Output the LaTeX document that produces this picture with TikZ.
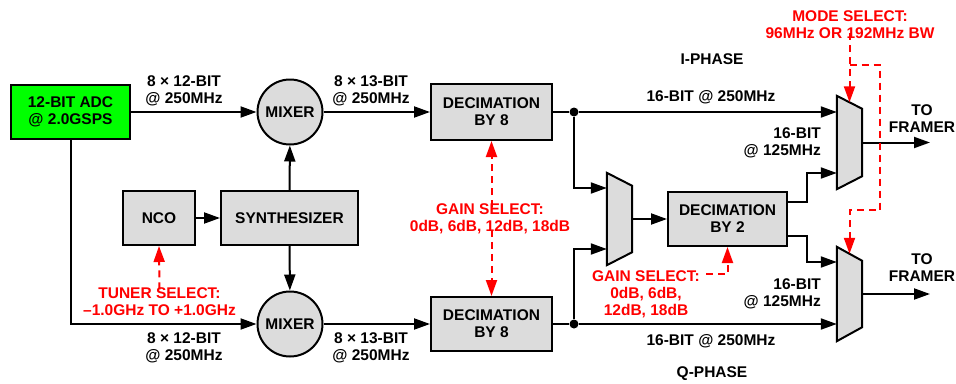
\documentclass[tikz,border=0pt]{standalone}
\usepackage{fontspec}
\setmainfont{Liberation Sans}
\usepackage{tikz}
\usetikzlibrary{arrows.meta,positioning,calc}
\definecolor{boxgray}{RGB}{220,220,220}
\definecolor{selred}{RGB}{255,0,0}
\definecolor{adcgreen}{RGB}{0,255,0}
\tikzset{
  base/.style={font=\fontsize{15.5}{17}\selectfont\bfseries, align=center},
  gbox/.style={base, draw, line width=2pt, fill=boxgray, inner sep=0pt},
  mixbox/.style={gbox, circle, minimum size=65pt},
  muxbox/.style={inner sep=0pt, minimum width=25pt},
  muxfill/.style={draw, line width=2pt, fill=boxgray},
  flow/.style={-{Triangle[length=16pt,width=11pt]}, line width=2pt},
  sel/.style={-{Triangle[length=16pt,width=11pt]}, line width=2pt, draw=selred, dash pattern=on 7pt off 5pt},
  lbl/.style={base, inner sep=0pt},
  rlbl/.style={lbl, text=selred},
  jdot/.style={circle, fill, inner sep=0pt, minimum size=9pt},
}
\newcommand{\muxdraw}[2]{%
  \draw[muxfill] (#1.north west) -- ($(#1.north east)+(0,#2)$)
    -- ($(#1.south east)+(0,-#2)$) -- (#1.south west) -- cycle;}

\begin{document}
\begin{tikzpicture}[x=1pt,y=-1pt]
  \useasboundingbox (0,0) rectangle (956,383);
  % blocks
  \node[gbox, fill=adcgreen, minimum width=119pt, minimum height=54pt] (adc) at (70.5,112) {12-BIT ADC\\@ 2.0GSPS};
  \node[mixbox] (mixI) at (290,112) {MIXER};
  \node[mixbox] (mixQ) at (290,324) {MIXER};
  \node[gbox, minimum width=72pt, minimum height=54pt] (nco) at (159,218) {NCO};
  \node[gbox, minimum width=137pt, minimum height=54pt] (synth) at (289.5,218) {SYNTHESIZER};
  \node[gbox, minimum width=121pt, minimum height=56pt] (decI) at (491.5,112) {DECIMATION\\BY 8};
  \node[gbox, minimum width=121pt, minimum height=54pt] (decQ) at (491.5,324) {DECIMATION\\BY 8};
  \node[gbox, minimum width=119pt, minimum height=54pt] (dec2) at (727.5,219) {DECIMATION\\BY 2};
  % mux outlines
  \node[muxbox, minimum height=92pt] (muxM) at (619.5,219) {};
  \node[muxbox, minimum height=93pt] (muxI) at (849.5,142.5) {};
  \node[muxbox, minimum height=94pt] (muxQ) at (849.5,294) {};
  \muxdraw{muxM}{13}
  \muxdraw{muxI}{13}
  \muxdraw{muxQ}{14}
  \node[jdot] (jI) at (574,112) {};
  \node[jdot] (jQ) at (574,324) {};
  \coordinate (outI) at (930,142.5);
  \coordinate (outQ) at (930,294);

  % signal flow
  \draw[flow] (adc) -- (mixI);
  \draw[flow] (adc.south) |- (mixQ.west);
  \draw[flow] (nco) -- (synth);
  \draw[flow] (synth) -- (mixI);
  \draw[flow] (synth) -- (mixQ);
  \draw[flow] (mixI) -- (decI);
  \draw[flow] (mixQ) -- (decQ);
  \draw[line width=2pt] (decI.east) -- (jI);
  \draw[line width=2pt] (decQ.east) -- (jQ);
  \draw[flow] (jI) -- (jI -| muxI.west);
  \draw[flow] (jQ) -- (jQ -| muxQ.west);
  \draw[flow] (jI) |- ($(muxM.west)+(0,-31)$);
  \draw[flow] (jQ) |- ($(muxM.west)+(0,30)$);
  \draw[flow] (muxM.east) -- (dec2.west);
  \draw[flow] ($(dec2.east)+(0,-17)$) -- ++(19,0) |- ($(muxI.west)+(0,30.5)$);
  \draw[flow] ($(dec2.east)+(0,17)$) -- ++(19,0) |- ($(muxQ.west)+(0,-32)$);
  \draw[flow] (muxI.east) -- (outI);
  \draw[flow] (muxQ.east) -- (outQ);

  % labels
  \node[lbl] (bw1) at (184,91) {8 × 12-BIT\\@ 250MHz};
  \node[lbl] (bw2) at (184,348) {8 × 12-BIT\\@ 250MHz};
  \node[lbl] (bw3) at (371,91) {8 × 13-BIT\\@ 250MHz};
  \node[lbl] (bw4) at (371,348) {8 × 13-BIT\\@ 250MHz};
  \node[lbl] (bw5) at (711,97) {16-BIT @ 250MHz};
  \node[lbl] (bw6) at (711,341) {16-BIT @ 250MHz};
  \node[lbl, align=right, anchor=east] (bw7) at (821,143) {16-BIT\\@ 125MHz};
  \node[lbl, align=right, anchor=east] (bw8) at (821,294) {16-BIT\\@ 125MHz};
  \node[lbl] (iph) at (712,59) {I-PHASE};
  \node[lbl] (qph) at (712,374) {Q-PHASE};
  \node[lbl] (tfI) at (922,118.5) {TO\\FRAMER};
  \node[lbl] (tfQ) at (922,267.5) {TO\\FRAMER};

  % control inputs
  \node[rlbl] (tune) at (159.5,301.5) {TUNER SELECT:\\\textendash1.0GHz TO +1.0GHz};
  \node[rlbl] (gain) at (490,218.5) {GAIN SELECT:\\0dB, 6dB, 12dB, 18dB};
  \node[rlbl] (gain2) at (646,294) {GAIN SELECT:\\0dB, 6dB,\\12dB, 18dB};
  \node[rlbl] (mode) at (850,25) {MODE SELECT:\\96MHz OR 192MHz BW};
  \coordinate (g2r) at (706,274);
  \coordinate (mbr) at (849.5,65);
  \draw[sel] ([yshift=-2pt]tune.north) -- (nco.south);
  \draw[sel] ([yshift=-4pt]gain.north -| decI.south) -- (decI.south);
  \draw[sel] ([yshift=4pt]gain.south -| decQ.north) -- (decQ.north);
  \draw[sel] (g2r) -| (dec2.south);
  \draw[sel] ([yshift=6pt]mode.south -| muxI.north) -- ($(muxI.north)+(0,6.5)$);
  \draw[sel] (mbr) -| (880,210) -| ($(muxQ.north)+(0,7)$);
\end{tikzpicture}
\end{document}
